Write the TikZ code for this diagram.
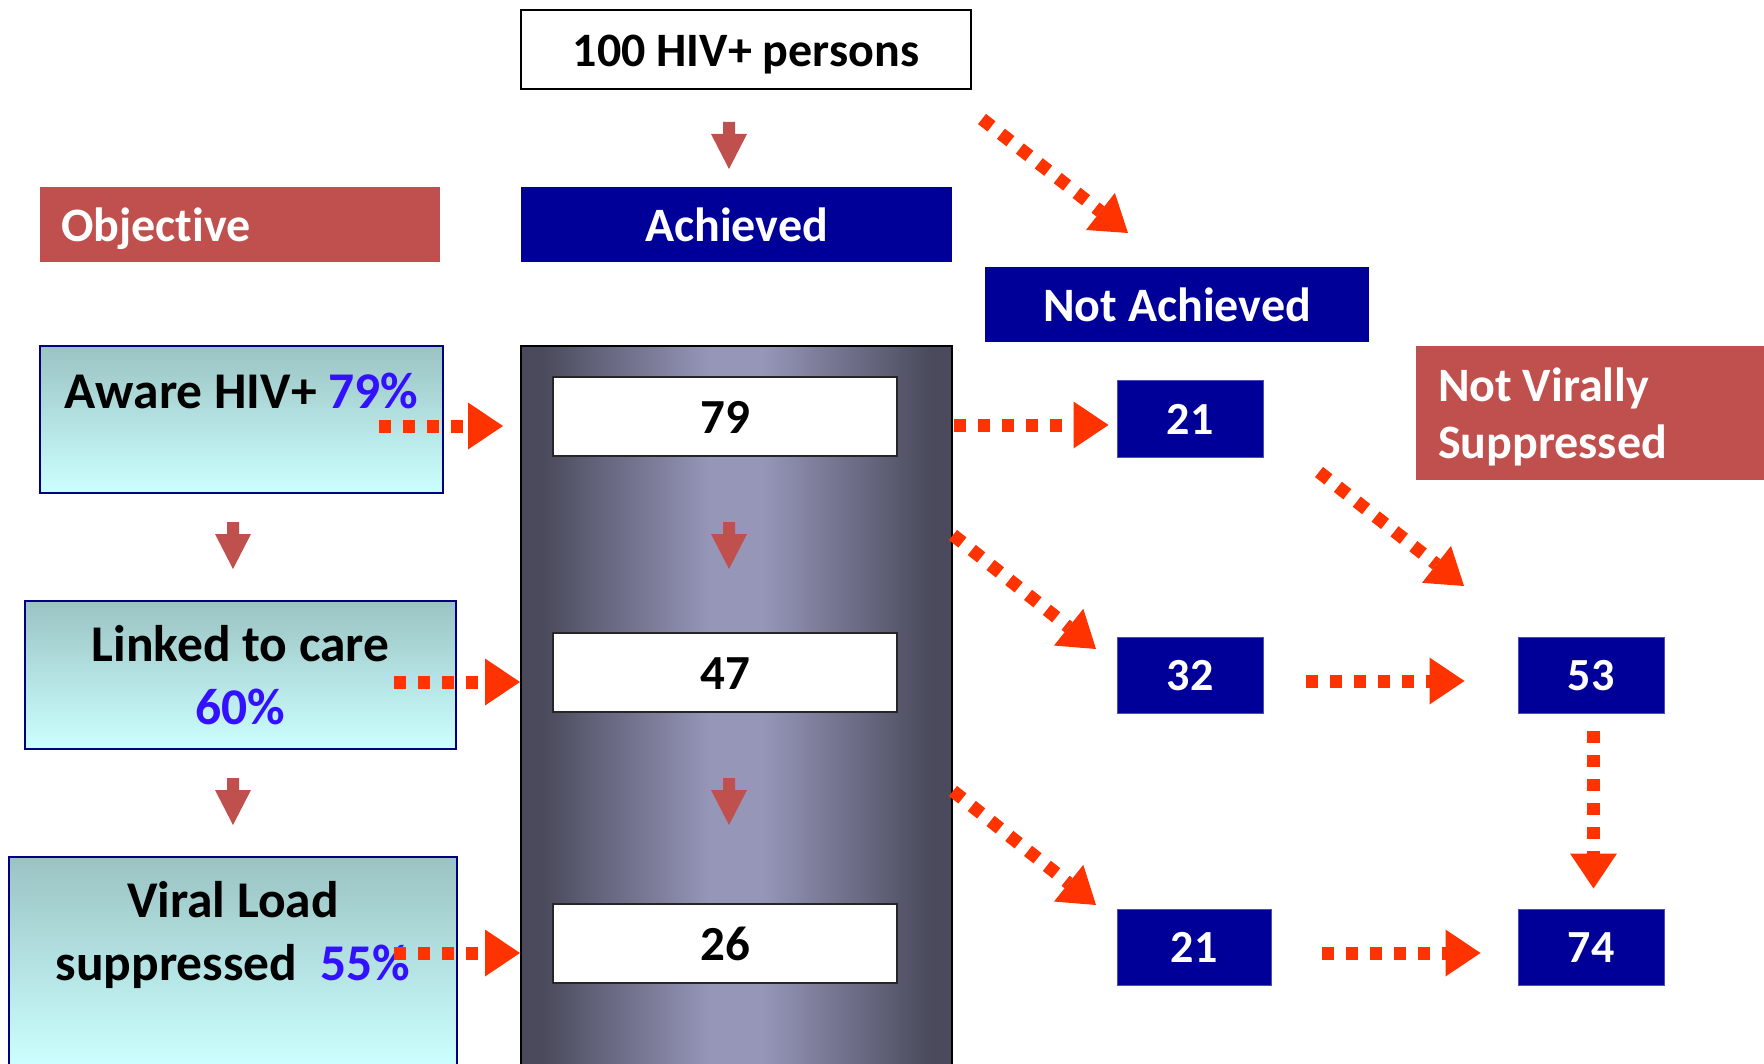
\documentclass[tikz,border=0pt]{standalone}
\usepackage{fontspec}
\setmainfont{Carlito}[Ligatures=NoCommon]
\usetikzlibrary{arrows.meta}

\definecolor{objred}{RGB}{192,80,77}
\definecolor{navy}{RGB}{0,0,153}
\definecolor{dotred}{RGB}{255,51,0}
\definecolor{pctblue}{RGB}{51,17,255}
\definecolor{stagetop}{RGB}{155,195,195}
\definecolor{stagebot}{RGB}{204,255,255}
\definecolor{stageline}{RGB}{0,0,128}
\definecolor{coldark}{RGB}{74,74,92}
\definecolor{collight}{RGB}{150,150,185}

\pgfdeclarehorizontalshading{colshade}{100bp}{color(0bp)=(coldark); color(27.5bp)=(coldark); color(47bp)=(collight); color(53bp)=(collight); color(72.5bp)=(coldark); color(100bp)=(coldark)}

\newcommand\hdfont{\bfseries\fontsize{48pt}{56pt}\selectfont}
\newcommand\stgfont{\bfseries\fontsize{51.5pt}{63pt}\selectfont}
\newcommand\numfont{\bfseries\fontsize{49pt}{58pt}\selectfont}
\newcommand\smfont{\bfseries\fontsize{46pt}{55pt}\selectfont}

\tikzset{
  cell/.style={rectangle, inner sep=0pt},
  hivbox/.style={cell, draw=black, line width=2.5pt, fill=white, font=\hdfont, text height=35pt, text depth=0pt},
  redhead/.style={cell, fill=objred, text=white, font=\hdfont},
  bluehead/.style={cell, fill=navy, text=white, font=\hdfont, text height=35pt, text depth=0pt},
  stage/.style={cell, draw=stageline, line width=2.5pt, top color=stagetop, bottom color=stagebot, font=\stgfont, align=flush center},
  numbox/.style={cell, draw=black!85, line width=2pt, fill=white, minimum width=344pt, minimum height=79pt, font=\numfont, text height=33pt, text depth=0pt},
  smallbox/.style={cell, fill=navy, draw=navy!70!white, line width=1pt, text=white, minimum width=146pt, minimum height=76pt, font=\smfont, text height=31pt, text depth=0pt},
  dotarrow/.style={draw=dotred, line width=13pt, dash pattern=on 12pt off 12pt, -{Triangle[length=35pt, width=47pt, line width=0pt]}},
  pics/downarrow/.style={code={\fill[objred] (-6,0) -- (6,0) -- (6,12) -- (18,12) -- (0,47) -- (-18,12) -- (-6,12) -- cycle;}}
}

\begin{document}
\begin{tikzpicture}[x=1pt, y=-1pt]
\useasboundingbox (0,0) rectangle (1764,1064);

\node[cell, shading=colshade, draw=black, line width=2.5pt, minimum width=431pt, minimum height=720pt] (col) at (736.5,706) {};

\node[hivbox, minimum width=450pt, minimum height=79pt] (hiv) at (746,49.5) {100 HIV+ persons};
\node[redhead, minimum width=400pt, minimum height=75pt, inner xsep=21pt, text width=358pt, align=flush left, text height=35pt, text depth=0pt] (obj) at (240,224.5) {Objective};
\node[bluehead, minimum width=431pt, minimum height=75pt] (ach) at (736.5,224.5) {Achieved};
\node[bluehead, minimum width=384pt, minimum height=75pt] (na) at (1177,304.5) {Not Achieved};
\node[redhead, minimum width=360pt, minimum height=134pt, inner xsep=22pt, text width=316pt, align=flush left, text height=34pt, text depth=56pt] (nvs) at (1596,413) {Not Virally\\Suppressed};

\node[stage, minimum width=403pt, minimum height=147pt, text width=403pt, text height=62.5pt, text depth=84.5pt] (aware) at (241.5,419.5) {Aware HIV+ \textcolor{pctblue}{79\%}};
\node[stage, minimum width=431pt, minimum height=148pt, text width=431pt, text height=60.5pt, text depth=87.5pt] (linked) at (240.5,675) {Linked to care\\\textcolor{pctblue}{60\%}};
\node[stage, minimum width=448pt, minimum height=209pt, text width=448pt, text height=60.5pt, text depth=148.5pt] (viral) at (233,961.5) {Viral Load\\suppressed~~\textcolor{pctblue}{55\%}};

\node[numbox] (n79) at (725,416.5) {79};
\node[numbox] (n47) at (725,672.5) {47};
\node[numbox] (n26) at (725,943.5) {26};

\node[smallbox] (na21) at (1190,419) {21};
\node[smallbox] (na32) at (1190,675) {32};
\node[smallbox, minimum width=154pt] (na21b) at (1194,947) {21};
\node[smallbox] (nv53) at (1591,675) {53};
\node[smallbox] (nv74) at (1591,947) {74};

\pic at (729,122) {downarrow};
\pic at (729,522) {downarrow};
\pic at (729,778) {downarrow};
\pic at (233,522) {downarrow};
\pic at (233,778) {downarrow};

\coordinate (hivout) at (982,119);
\coordinate (nain) at (1128,233);
\coordinate (c79out) at (953,535);
\coordinate (na32in) at (1096,649);
\coordinate (c47out) at (953,791);
\coordinate (na21bin) at (1096,905);
\coordinate (na21out) at (1319,472);
\coordinate (nvsin) at (1464,586);

\draw[dotarrow] (hivout) -- (nain);
\draw[dotarrow, shorten >=49pt] ([shift={(-65,6.5)}]aware.east) -- ([shift={(0,9.5)}]n79.west);
\draw[dotarrow, shorten >=32pt] ([shift={(-63,7)}]linked.east) -- ([shift={(0,9.5)}]n47.west);
\draw[dotarrow, shorten >=32pt] ([shift={(-64,-8.5)}]viral.east) -- ([shift={(0,9.5)}]n26.west);
\draw[dotarrow, shorten <=56pt, shorten >=8pt] ([shift={(0,8.5)}]n79.east) -- ([shift={(0,6)}]na21.west);
\draw[dotarrow] (c79out) -- (na32in);
\draw[dotarrow] (c47out) -- (na21bin);
\draw[dotarrow] (na21out) -- (nvsin);
\draw[dotarrow, shorten <=42pt, shorten >=53pt] ([shift={(0,6)}]na32.east) -- ([shift={(0,6)}]nv53.west);
\draw[dotarrow, shorten <=50pt, shorten >=37pt] ([shift={(0,6)}]na21b.east) -- ([shift={(0,6)}]nv74.west);
\draw[dotarrow, shorten <=17pt, shorten >=20pt] ([shift={(2.5,0)}]nv53.south) -- ([shift={(2.5,0)}]nv74.north);
\end{tikzpicture}
\end{document}
